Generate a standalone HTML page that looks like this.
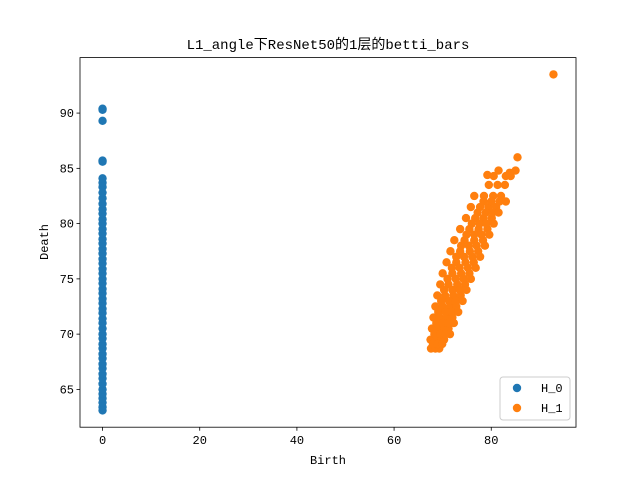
<!DOCTYPE html>
<html><head><meta charset="utf-8"><style>
html,body{margin:0;padding:0;background:#fff}
svg{display:block}
text{font-family:"Liberation Mono","Noto Sans CJK SC",monospace;fill:#000}
</style></head><body>
<svg id="chart" width="640" height="480" xmlns="http://www.w3.org/2000/svg">
<rect width="640" height="480" fill="#fff"/>
<text x="328" y="49" text-anchor="middle" font-size="14">L1_angle下ResNet50的1层的betti_bars</text>
<g id="plot"></g>
<rect x="80" y="57.6" width="496" height="369.6" fill="none" stroke="#000" stroke-width="0.8"/>
<g id="ticks"></g>
<text x="328" y="464" text-anchor="middle" font-size="12">Birth</text>
<text transform="translate(48,242) rotate(-90)" text-anchor="middle" font-size="12">Death</text>
<g>
<rect x="500" y="377" width="70" height="43" rx="3" fill="#fff" fill-opacity="0.8" stroke="#ccc" stroke-width="1"/>
<circle cx="517" cy="388" r="4.2" fill="#1f77b4"/>
<text x="541" y="392" font-size="12">H_0</text>
<circle cx="517" cy="408" r="4.2" fill="#ff7f0e"/>
<text x="541" y="412" font-size="12">H_1</text>
</g>
</svg>
<script>
const xTicks = [0, 20, 40, 60, 80];
const yTicks = [65, 70, 75, 80, 85, 90];
const h0Death = [63.1,63.4,63.8,64.2,64.6,65.0,65.5,66.0,66.4,66.9,67.3,67.8,68.2,68.7,69.1,69.6,70.0,70.5,71.0,71.4,71.9,72.3,72.8,73.2,73.7,74.1,74.6,75.0,75.5,75.9,76.4,76.8,77.3,77.7,78.2,78.6,79.1,79.5,80.0,80.4,80.9,81.3,81.8,82.3,82.8,83.3,83.7,84.1,85.6,85.7,89.3,90.3,90.4];
const h1Birth = [67.6,68.5,69.3, 67.5,68.6,69.7,70.3, 67.8,69,70.3,71.2, 68.1,69.4,70.8,72.0, 68.5,70,71.5,72.8, 68.9,70.5,72.2,73.7, 69.5,71.2,73.0,74.6, 70,72,73.8,75.5, 70.8,72.8,74.7,76.4, 71.6,73.6,75.6,77.3, 72.4,74.5,76.5,78.3, 73.6,75.5,77.4,79.2, 74.8,76.7,78.4,80.1, 75.8,77.7,79.4,81.0, 76.5,78.5,80.4,82.0, 79.5,81.3,82.8, 79.2,80.5,83,84, 81.5,83.8,85, 85.4, 92.8,
 68.0,69.0,69.9, 68.3,69.5,70.6,71.5, 68.7,70.0,71.2,72.3, 69.1,70.6,71.9,73.2, 69.7,71.3,72.7,74.1, 70.3,72.0,73.5,74.9, 71.0,72.7,74.3,75.8, 71.9,73.5,75.2,76.8, 72.8,74.4,76.1,77.7, 73.8,75.4,77.0,78.7, 74.9,76.5,78.0,79.6, 76.0,77.6,79.0,80.5, 77.2,78.9,80.3,81.5, 78.4,80.0,81.7,83.0];
const h1Death = [68.7,68.7,68.7, 69.5,69.5,69.5,69.5, 70.5,70.5,70.5,70.5, 71.5,71.5,71.5,71.5, 72.5,72.5,72.5,72.5, 73.5,73.5,73.5,73.5, 74.5,74.5,74.5,74.5, 75.5,75.5,75.5,75.5, 76.5,76.5,76.5,76.5, 77.5,77.5,77.5,77.5, 78.5,78.5,78.5,78.5, 79.5,79.5,79.5,79.5, 80.5,80.5,80.5,80.5, 81.5,81.5,81.5,81.5, 82.5,82.5,82.5,82.5, 83.5,83.5,83.5, 84.4,84.3,84.3,84.3, 84.8,84.6,84.8, 86.0, 93.5,
 69.1,69.1,69.1, 70.0,70.0,70.0,70.0, 71.0,71.0,71.0,71.0, 72.0,72.0,72.0,72.0, 73.0,73.0,73.0,73.0, 74.0,74.0,74.0,74.0, 75.0,75.0,75.0,75.0, 76.0,76.0,76.0,76.0, 77.0,77.0,77.0,77.0, 78.0,78.0,78.0,78.0, 79.0,79.0,79.0,79.0, 80.0,80.0,80.0,80.0, 81.0,81.0,81.0,81.0, 82.0,82.0,82.0,82.0];

const L=80,R=576,T=57.6,B=427.2;
const allX=[0,...h1Birth], allY=[...h0Death,...h1Death];
const xmin=Math.min(...allX), xmax=Math.max(...allX), ymin=Math.min(...allY), ymax=Math.max(...allY);
const x0=xmin-(xmax-xmin)*0.05, x1=xmax+(xmax-xmin)*0.05;
const y0=ymin-(ymax-ymin)*0.05, y1=ymax+(ymax-ymin)*0.05;
const sx=v=>L+(v-x0)/(x1-x0)*(R-L);
const sy=v=>B-(v-y0)/(y1-y0)*(B-T);
const NS='http://www.w3.org/2000/svg';
const plot=document.getElementById('plot'), tk=document.getElementById('ticks');
function mk(tag,attrs,parent){const e=document.createElementNS(NS,tag);for(const k in attrs)e.setAttribute(k,attrs[k]);parent.appendChild(e);return e;}
h0Death.forEach(d=>{
  const c=mk('circle',{cx:sx(0),cy:sy(d),r:4.2,fill:'#1f77b4'},plot);
  
  
});
h1Birth.forEach((b,i)=>{
  const c=mk('circle',{cx:sx(b),cy:sy(h1Death[i]),r:4.2,fill:'#ff7f0e'},plot);
  
  
});
xTicks.forEach(v=>{
  const x=sx(v);
  const l=mk('line',{x1:x,x2:x,y1:B,y2:B+3.5,stroke:'#000','stroke-width':0.8},tk);
  
  
  const t=mk('text',{x:x,y:B+17,'text-anchor':'middle','font-size':12},tk);
  t.textContent=v;
  
  
});
yTicks.forEach(v=>{
  const y=sy(v);
  const l=mk('line',{x1:L-3.5,x2:L,y1:y,y2:y,stroke:'#000','stroke-width':0.8},tk);
  
  
  const t=mk('text',{x:L-6,y:y+4,'text-anchor':'end','font-size':12},tk);
  t.textContent=v;
  
  
});
</script>
</body></html>
